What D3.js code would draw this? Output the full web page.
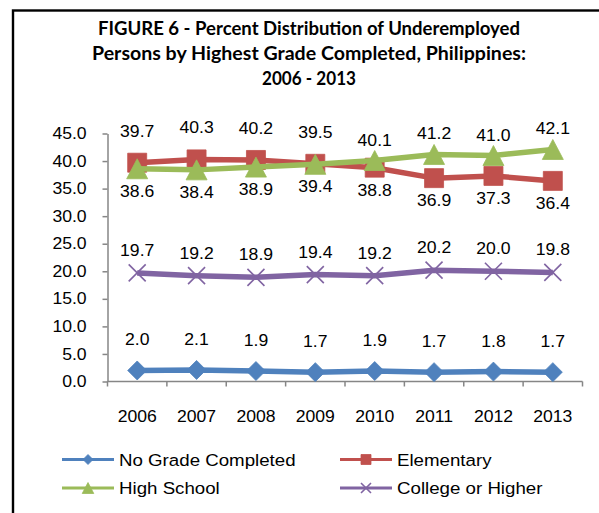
<!DOCTYPE html>
<html>
<head>
<meta charset="utf-8">
<script src="https://cdn.jsdelivr.net/npm/d3@7"></script>
<style>
  body { margin: 0; background: #fff; }
  svg { display: block; }
  text { font-family: "Liberation Sans", Arial, sans-serif; fill: #000; }
  .title { font-family: Lato, "Open Sans", sans-serif; font-weight: 700; font-size: 18px; }
</style>
</head>
<body>
<div id="chart"></div>
<script>
(function(d3) {
'use strict';

// data
var years = ['2006', '2007', '2008', '2009', '2010', '2011', '2012', '2013'];
var noGrade = [2.0, 2.1, 1.9, 1.7, 1.9, 1.7, 1.8, 1.7];
var elementary = [39.7, 40.3, 40.2, 39.5, 38.8, 36.9, 37.3, 36.4];
var highSchool = [38.6, 38.4, 38.9, 39.4, 40.1, 41.2, 41.0, 42.1];
var college = [19.7, 19.2, 18.9, 19.4, 19.2, 20.2, 20.0, 19.8];
var yTicks = [0, 5, 10, 15, 20, 25, 30, 35, 40, 45];
var seriesNames = ['No Grade Completed', 'Elementary', 'High School', 'College or Higher'];
var titleLines = [
  'FIGURE 6 - Percent Distribution of Underemployed',
  'Persons by Highest Grade Completed, Philippines:',
  '2006 - 2013'
];

var width = 599;
var height = 513;
var sx = 1.1; // text in the picture is a bit wide

var series = [
  { name: seriesNames[0], values: noGrade,    color: '#4F81BD', marker: 'diamond'  },
  { name: seriesNames[1], values: elementary, color: '#C0504D', marker: 'square'   },
  { name: seriesNames[2], values: highSchool, color: '#9BBB59', marker: 'triangle' },
  { name: seriesNames[3], values: college,    color: '#8064A2', marker: 'x'        }
];

// label offsets (baseline relative to point)
var labelAbove = { diamond: -25, square: -26, triangle: -15, x: -17 };
var labelBelow = 28;

function markerPath(type, s) {
  var h = s / 2;
  if (type === 'diamond') return 'M0,' + (-h) + 'L' + h + ',0L0,' + h + 'L' + (-h) + ',0Z';
  if (type === 'square') return 'M' + (-h) + ',' + (-h) + 'H' + h + 'V' + h + 'H' + (-h) + 'Z';
  if (type === 'triangle') return 'M0,' + (-h) + 'L' + (h * 1.05) + ',' + h + 'L' + (-h * 1.05) + ',' + h + 'Z';
  return 'M' + (-h) + ',' + (-h) + 'L' + h + ',' + h + 'M' + h + ',' + (-h) + 'L' + (-h) + ',' + h;
}

function styleMarker(sel, s) {
  sel.attr('fill', function(d) { return s.marker === 'x' ? 'none' : s.color; })
    .attr('stroke', s.color)
    .attr('stroke-width', s.marker === 'x' ? 1.6 : 0.8);
}

var svg = d3.select('#chart')
  .append('svg')
  .attr('width', width)
  .attr('height', height);

// frame
svg.append('rect')
  .attr('x', 13)
  .attr('y', 10.5)
  .attr('width', 700)
  .attr('height', 700)
  .attr('fill', 'none')
  .attr('stroke', '#000')
  .attr('stroke-width', 2.4);

// title
var titleWidths = [422, 434, 94];
svg.selectAll('.title')
  .data(titleLines)
  .enter()
  .append('text')
  .attr('class', 'title')
  .attr('x', 309)
  .attr('y', function(d, i) { return 35 + i * 25; })
  .attr('text-anchor', 'middle')
  .attr('textLength', function(d, i) { return titleWidths[i]; })
  .attr('lengthAdjust', 'spacingAndGlyphs')
  .text(function(d) { return d; });

var x = d3.scaleBand()
  .domain(years)
  .range([107.5, 582.5]);

var y = d3.scaleLinear()
  .domain([0, 45])
  .range([381.5, 133.5]);

function cx(i) { return x(years[i]) + x.bandwidth() / 2; }

// y axis
var yAxis = svg.append('g')
  .attr('transform', 'translate(107.5,0)')
  .call(d3.axisLeft(y)
    .tickValues(yTicks)
    .tickSize(5)
    .tickSizeOuter(0)
    .tickPadding(14)
    .tickFormat(d3.format('.1f')));
yAxis.select('.domain').attr('stroke', '#868686').attr('stroke-width', 1.5);
yAxis.selectAll('line').attr('stroke', '#868686').attr('stroke-width', 1.5);
yAxis.selectAll('text')
  .attr('font-family', '"Liberation Sans", Arial, sans-serif')
  .attr('font-size', 16)
  .attr('fill', '#000')
  .attr('transform', 'scale(' + sx + ',1)');

// x axis: line, ticks between categories, labels at centers
var xAxis = svg.append('g');
xAxis.append('line')
  .attr('x1', x.range()[0])
  .attr('x2', x.range()[1])
  .attr('y1', y(0))
  .attr('y2', y(0))
  .attr('stroke', '#868686')
  .attr('stroke-width', 1.5);
xAxis.selectAll('.xtick')
  .data(years.concat(['end']))
  .enter()
  .append('line')
  .attr('class', 'xtick')
  .attr('x1', function(d, i) { return x.range()[0] + i * x.step(); })
  .attr('x2', function(d, i) { return x.range()[0] + i * x.step(); })
  .attr('y1', y(0))
  .attr('y2', y(0) + 5)
  .attr('stroke', '#868686')
  .attr('stroke-width', 1.5);
xAxis.selectAll('.xlab')
  .data(years)
  .enter()
  .append('text')
  .attr('class', 'xlab')
  .attr('text-anchor', 'middle')
  .attr('font-size', 16)
  .attr('transform', function(d, i) { return 'translate(' + cx(i) + ',' + (y(0) + 40.5) + ') scale(' + sx + ',1)'; })
  .text(function(d) { return d; });

// lines and markers
var line = d3.line()
  .x(function(d, i) { return cx(i); })
  .y(function(d) { return y(d); });

series.forEach(function(s) {
  var g = svg.append('g');
  g.append('path')
    .attr('d', line(s.values))
    .attr('fill', 'none')
    .attr('stroke', s.color)
    .attr('stroke-width', 5.5)
    .attr('stroke-linejoin', 'round');
  var size = s.marker === 'triangle' ? 20 : (s.marker === 'x' ? 17 : 19);
  g.selectAll('.m')
    .data(s.values)
    .enter()
    .append('path')
    .attr('class', 'm')
    .attr('transform', function(d, i) { return 'translate(' + cx(i) + ',' + y(d) + ')'; })
    .attr('d', markerPath(s.marker, size))
    .call(styleMarker, s);
});

// data labels; elementary / high school: the higher one goes above
series.forEach(function(s, si) {
  svg.append('g').selectAll('text')
    .data(s.values)
    .enter()
    .append('text')
    .attr('text-anchor', 'middle')
    .attr('font-size', 16)
    .attr('transform', function(d, i) {
      var off = labelAbove[s.marker];
      if (si === 1 || si === 2) {
        var other = si === 1 ? highSchool[i] : elementary[i];
        if (d < other) off = labelBelow;
        else if (si === 2) off = labelAbove.triangle;
        else off = labelAbove.square;
      }
      return 'translate(' + cx(i) + ',' + (y(d) + off) + ') scale(' + sx + ',1)';
    })
    .text(function(d) { return d3.format('.1f')(d); });
});

// legend
var legend = svg.append('g');
series.forEach(function(s, i) {
  var lx = (i % 2 === 0) ? 62 : 340;
  var ly = i < 2 ? 459.5 : 488;
  var item = legend.append('g').attr('transform', 'translate(' + lx + ',' + ly + ')');
  item.append('line')
    .attr('x1', 0).attr('x2', 52)
    .attr('y1', 0).attr('y2', 0)
    .attr('stroke', s.color)
    .attr('stroke-width', 3);
  item.append('path')
    .attr('transform', 'translate(26,0)')
    .attr('d', markerPath(s.marker, s.marker === 'triangle' ? 11 : 10))
    .call(styleMarker, s);
  item.append('text')
    .attr('font-size', 17)
    .attr('transform', 'translate(57,6) scale(' + sx + ',1)')
    .text(s.name);
});

})(window.d3);
</script>
</body>
</html>
